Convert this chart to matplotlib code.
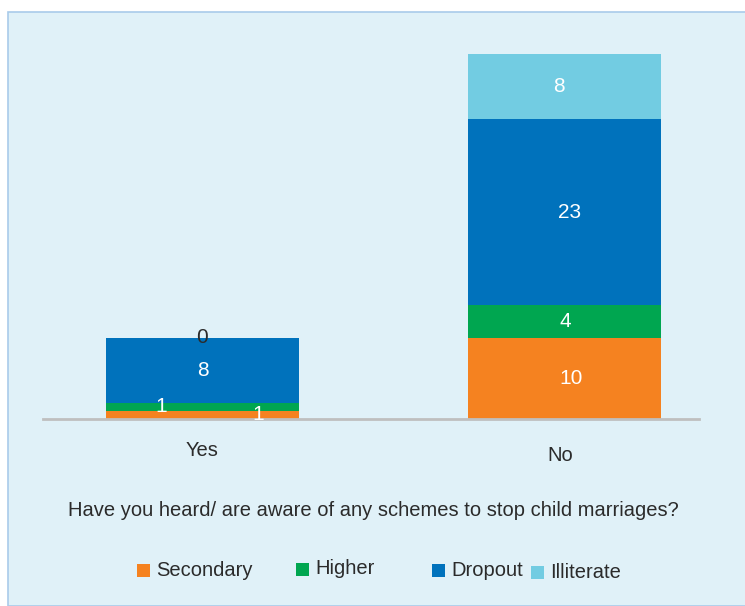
import matplotlib.pyplot as plt
import numpy as np
from matplotlib.patches import Rectangle

# Data
categories = ['Yes', 'No']
series_names = ['Secondary', 'Higher', 'Dropout', 'Illiterate']
secondary = [1, 10]
higher = [1, 4]
dropout = [8, 23]
illiterate = [0, 8]

# Style
COLORS = ['#F58220', '#00A650', '#0072BC', '#72CCE2']
BG_COLOR = '#E0F1F8'
BORDER_COLOR = '#A9CBEA'
TEXT_COLOR = '#2B2B2B'
FONT = 'Liberation Sans'
BAR_WIDTH = 0.533

plt.rcParams['font.family'] = [FONT, 'DejaVu Sans']

fig = plt.figure(figsize=(7.45, 6.06), dpi=100)
W, H = 745, 606

# panel background with thin border, kept behind the axes
fig.patches.append(Rectangle((8 / W, 0), 1, (H - 12) / H, transform=fig.transFigure,
                             facecolor=BG_COLOR, edgecolor=BORDER_COLOR, linewidth=1.2, zorder=-5))

ax = fig.add_axes([43 / W, (H - 419) / H, (699 - 43) / W, (419 - 54) / H])
ax.set_facecolor('none')

x = np.arange(len(categories))
series = [secondary, higher, dropout, illiterate]
bottom = np.zeros(len(categories))
bars = []
for vals, col in zip(series, COLORS):
    ax.bar(x, vals, BAR_WIDTH, bottom=bottom, color=col, linewidth=0, zorder=2)
    bars.append((vals, bottom.copy()))
    bottom += np.array(vals)

# data labels (x offsets mimic the original placement)
label_dx = [[0.155, 0.017], [-0.113, 0.0], [0.0, 0.014], [0.0, -0.017]]
for si, (vals, bot) in enumerate(bars):
    for ci, v in enumerate(vals):
        if v == 0:
            ax.text(x[ci], bot[ci] + 0.1, str(v), ha='center', va='center',
                    color=TEXT_COLOR, fontsize=15, zorder=3)
        else:
            ax.text(x[ci] + label_dx[si][ci], bot[ci] + v / 2, str(v), ha='center', va='center',
                    color='white', fontsize=15, zorder=3)

ax.set_xlim(-0.44, 1.37)
ax.set_ylim(0, 45)
for s in ['top', 'right', 'left']:
    ax.spines[s].set_visible(False)
ax.spines['bottom'].set_color('#BFBFBF')
ax.spines['bottom'].set_linewidth(2)
ax.set_yticks([])
ax.set_xticks([])

# category labels
cat_y = [-0.085, -0.099]
cat_dx = [0.0, -0.014]
for ci, name in enumerate(categories):
    ax.text(x[ci] + cat_dx[ci], cat_y[ci], name, transform=ax.get_xaxis_transform(),
            ha='center', va='center', fontsize=14.5, color=TEXT_COLOR)

fig.text(373 / W, 1 - 510 / H, 'Have you heard/ are aware of any schemes to stop child marriages?',
         ha='center', va='center', fontsize=14.5, color=TEXT_COLOR)

# legend laid out by hand to keep the uneven spacing
leg_x = [137, 296, 432, 531]
leg_y = [570, 569, 570, 572]
sq = 13
for name, col, lx, ly in zip(series_names, COLORS, leg_x, leg_y):
    fig.patches.append(Rectangle((lx / W, 1 - (ly + sq / 2) / H), sq / W, sq / H,
                                 transform=fig.transFigure, facecolor=col, edgecolor='none'))
    fig.text((lx + sq + 6) / W, 1 - ly / H, name, ha='left', va='center',
             fontsize=14.5, color=TEXT_COLOR)

fig.savefig('out.png', dpi=100)
